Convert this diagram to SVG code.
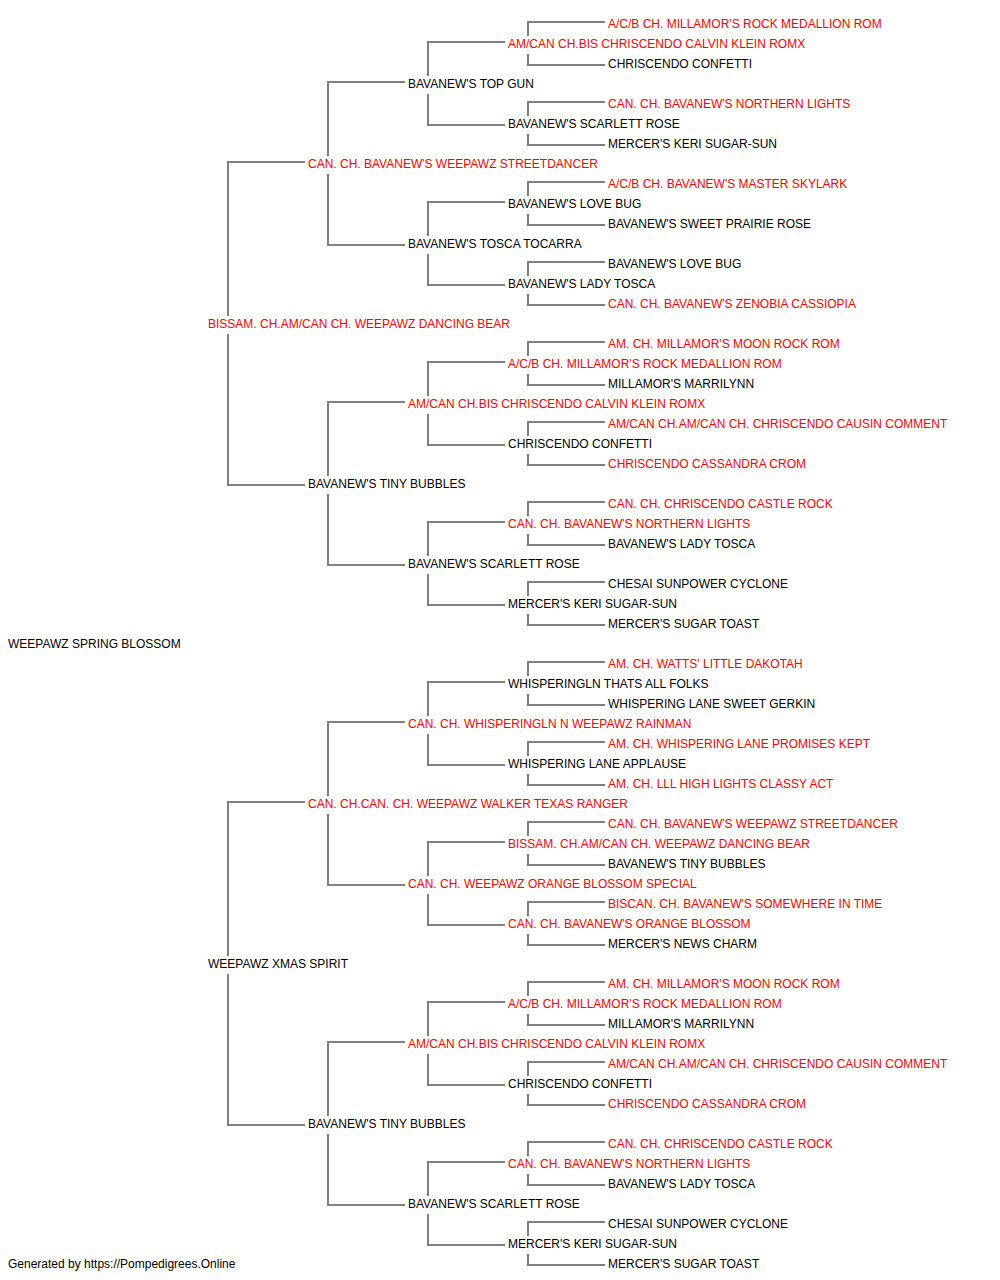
<svg xmlns="http://www.w3.org/2000/svg" width="1000" height="1280" viewBox="0 0 1000 1280">
<style>
text{font-family:"Liberation Sans",Arial,sans-serif;font-size:12px}
.r{fill:#ff0000}
.b{fill:#000000}
.c path{fill:none;stroke:#808080;stroke-width:2;stroke-linejoin:miter;stroke-linecap:butt}
</style>
<rect width="1000" height="1280" fill="#ffffff"/>
<g id="connectors" class="c">
<path d="M305 162H228V316M228 334V485H305"/>
<path d="M305 802H228V956M228 974V1125H305"/>
<path d="M405 82H328V156M328 174V245H405"/>
<path d="M405 402H328V476M328 494V565H405"/>
<path d="M405 722H328V796M328 814V885H405"/>
<path d="M405 1042H328V1116M328 1134V1205H405"/>
<path d="M505 42H428V76M428 94V125H505"/>
<path d="M505 202H428V236M428 254V285H505"/>
<path d="M505 362H428V396M428 414V445H505"/>
<path d="M505 522H428V556M428 574V605H505"/>
<path d="M505 682H428V716M428 734V765H505"/>
<path d="M505 842H428V876M428 894V925H505"/>
<path d="M505 1002H428V1036M428 1054V1085H505"/>
<path d="M505 1162H428V1196M428 1214V1245H505"/>
<path d="M605 22H528V36M528 54V65H605"/>
<path d="M605 102H528V116M528 134V145H605"/>
<path d="M605 182H528V196M528 214V225H605"/>
<path d="M605 262H528V276M528 294V305H605"/>
<path d="M605 342H528V356M528 374V385H605"/>
<path d="M605 422H528V436M528 454V465H605"/>
<path d="M605 502H528V516M528 534V545H605"/>
<path d="M605 582H528V596M528 614V625H605"/>
<path d="M605 662H528V676M528 694V705H605"/>
<path d="M605 742H528V756M528 774V785H605"/>
<path d="M605 822H528V836M528 854V865H605"/>
<path d="M605 902H528V916M528 934V945H605"/>
<path d="M605 982H528V996M528 1014V1025H605"/>
<path d="M605 1062H528V1076M528 1094V1105H605"/>
<path d="M605 1142H528V1156M528 1174V1185H605"/>
<path d="M605 1222H528V1236M528 1254V1265H605"/>
</g>
<g id="n0"><text class="b" x="8" y="648.3">WEEPAWZ SPRING BLOSSOM</text></g>
<g id="n1a"><text class="r" x="208" y="328.3">BISSAM. CH.AM/CAN CH. WEEPAWZ DANCING BEAR</text></g>
<g id="n1b"><text class="b" x="208" y="968.3">WEEPAWZ XMAS SPIRIT</text></g>
<g id="n2a"><text class="r" x="308" y="168.3">CAN. CH. BAVANEW'S WEEPAWZ STREETDANCER</text></g>
<g id="n2b"><text class="b" x="308" y="488.3">BAVANEW'S TINY BUBBLES</text></g>
<g id="n2c"><text class="r" x="308" y="808.3">CAN. CH.CAN. CH. WEEPAWZ WALKER TEXAS RANGER</text></g>
<g id="n2d"><text class="b" x="308" y="1128.3">BAVANEW'S TINY BUBBLES</text></g>
<g id="n3a"><text class="b" x="408" y="88.3">BAVANEW'S TOP GUN</text></g>
<g id="n3b"><text class="b" x="408" y="248.3">BAVANEW'S TOSCA TOCARRA</text></g>
<g id="n3c"><text class="r" x="408" y="408.3">AM/CAN CH.BIS CHRISCENDO CALVIN KLEIN ROMX</text></g>
<g id="n3d"><text class="b" x="408" y="568.3">BAVANEW'S SCARLETT ROSE</text></g>
<g id="n3e"><text class="r" x="408" y="728.3">CAN. CH. WHISPERINGLN N WEEPAWZ RAINMAN</text></g>
<g id="n3f"><text class="r" x="408" y="888.3">CAN. CH. WEEPAWZ ORANGE BLOSSOM SPECIAL</text></g>
<g id="n3g"><text class="r" x="408" y="1048.3">AM/CAN CH.BIS CHRISCENDO CALVIN KLEIN ROMX</text></g>
<g id="n3h"><text class="b" x="408" y="1208.3">BAVANEW'S SCARLETT ROSE</text></g>
<g id="n4a"><text class="r" x="508" y="48.3">AM/CAN CH.BIS CHRISCENDO CALVIN KLEIN ROMX</text></g>
<g id="n4b"><text class="b" x="508" y="128.3">BAVANEW'S SCARLETT ROSE</text></g>
<g id="n4c"><text class="b" x="508" y="208.3">BAVANEW'S LOVE BUG</text></g>
<g id="n4d"><text class="b" x="508" y="288.3">BAVANEW'S LADY TOSCA</text></g>
<g id="n4e"><text class="r" x="508" y="368.3">A/C/B CH. MILLAMOR'S ROCK MEDALLION ROM</text></g>
<g id="n4f"><text class="b" x="508" y="448.3">CHRISCENDO CONFETTI</text></g>
<g id="n4g"><text class="r" x="508" y="528.3">CAN. CH. BAVANEW'S NORTHERN LIGHTS</text></g>
<g id="n4h"><text class="b" x="508" y="608.3">MERCER'S KERI SUGAR-SUN</text></g>
<g id="n4i"><text class="b" x="508" y="688.3">WHISPERINGLN THATS ALL FOLKS</text></g>
<g id="n4j"><text class="b" x="508" y="768.3">WHISPERING LANE APPLAUSE</text></g>
<g id="n4k"><text class="r" x="508" y="848.3">BISSAM. CH.AM/CAN CH. WEEPAWZ DANCING BEAR</text></g>
<g id="n4l"><text class="r" x="508" y="928.3">CAN. CH. BAVANEW'S ORANGE BLOSSOM</text></g>
<g id="n4m"><text class="r" x="508" y="1008.3">A/C/B CH. MILLAMOR'S ROCK MEDALLION ROM</text></g>
<g id="n4n"><text class="b" x="508" y="1088.3">CHRISCENDO CONFETTI</text></g>
<g id="n4o"><text class="r" x="508" y="1168.3">CAN. CH. BAVANEW'S NORTHERN LIGHTS</text></g>
<g id="n4p"><text class="b" x="508" y="1248.3">MERCER'S KERI SUGAR-SUN</text></g>
<g id="n5-00"><text class="r" x="608" y="28.3">A/C/B CH. MILLAMOR'S ROCK MEDALLION ROM</text></g>
<g id="n5-01"><text class="b" x="608" y="68.3">CHRISCENDO CONFETTI</text></g>
<g id="n5-02"><text class="r" x="608" y="108.3">CAN. CH. BAVANEW'S NORTHERN LIGHTS</text></g>
<g id="n5-03"><text class="b" x="608" y="148.3">MERCER'S KERI SUGAR-SUN</text></g>
<g id="n5-04"><text class="r" x="608" y="188.3">A/C/B CH. BAVANEW'S MASTER SKYLARK</text></g>
<g id="n5-05"><text class="b" x="608" y="228.3">BAVANEW'S SWEET PRAIRIE ROSE</text></g>
<g id="n5-06"><text class="b" x="608" y="268.3">BAVANEW'S LOVE BUG</text></g>
<g id="n5-07"><text class="r" x="608" y="308.3">CAN. CH. BAVANEW'S ZENOBIA CASSIOPIA</text></g>
<g id="n5-08"><text class="r" x="608" y="348.3">AM. CH. MILLAMOR'S MOON ROCK ROM</text></g>
<g id="n5-09"><text class="b" x="608" y="388.3">MILLAMOR'S MARRILYNN</text></g>
<g id="n5-10"><text class="r" x="608" y="428.3">AM/CAN CH.AM/CAN CH. CHRISCENDO CAUSIN COMMENT</text></g>
<g id="n5-11"><text class="r" x="608" y="468.3">CHRISCENDO CASSANDRA CROM</text></g>
<g id="n5-12"><text class="r" x="608" y="508.3">CAN. CH. CHRISCENDO CASTLE ROCK</text></g>
<g id="n5-13"><text class="b" x="608" y="548.3">BAVANEW'S LADY TOSCA</text></g>
<g id="n5-14"><text class="b" x="608" y="588.3">CHESAI SUNPOWER CYCLONE</text></g>
<g id="n5-15"><text class="b" x="608" y="628.3">MERCER'S SUGAR TOAST</text></g>
<g id="n5-16"><text class="r" x="608" y="668.3">AM. CH. WATTS' LITTLE DAKOTAH</text></g>
<g id="n5-17"><text class="b" x="608" y="708.3">WHISPERING LANE SWEET GERKIN</text></g>
<g id="n5-18"><text class="r" x="608" y="748.3">AM. CH. WHISPERING LANE PROMISES KEPT</text></g>
<g id="n5-19"><text class="r" x="608" y="788.3">AM. CH. LLL HIGH LIGHTS CLASSY ACT</text></g>
<g id="n5-20"><text class="r" x="608" y="828.3">CAN. CH. BAVANEW'S WEEPAWZ STREETDANCER</text></g>
<g id="n5-21"><text class="b" x="608" y="868.3">BAVANEW'S TINY BUBBLES</text></g>
<g id="n5-22"><text class="r" x="608" y="908.3">BISCAN. CH. BAVANEW'S SOMEWHERE IN TIME</text></g>
<g id="n5-23"><text class="b" x="608" y="948.3">MERCER'S NEWS CHARM</text></g>
<g id="n5-24"><text class="r" x="608" y="988.3">AM. CH. MILLAMOR'S MOON ROCK ROM</text></g>
<g id="n5-25"><text class="b" x="608" y="1028.3">MILLAMOR'S MARRILYNN</text></g>
<g id="n5-26"><text class="r" x="608" y="1068.3">AM/CAN CH.AM/CAN CH. CHRISCENDO CAUSIN COMMENT</text></g>
<g id="n5-27"><text class="r" x="608" y="1108.3">CHRISCENDO CASSANDRA CROM</text></g>
<g id="n5-28"><text class="r" x="608" y="1148.3">CAN. CH. CHRISCENDO CASTLE ROCK</text></g>
<g id="n5-29"><text class="b" x="608" y="1188.3">BAVANEW'S LADY TOSCA</text></g>
<g id="n5-30"><text class="b" x="608" y="1228.3">CHESAI SUNPOWER CYCLONE</text></g>
<g id="n5-31"><text class="b" x="608" y="1268.3">MERCER'S SUGAR TOAST</text></g>
<g id="footer"><text class="b" x="8" y="1268.3">Generated by https://Pompedigrees.Online</text></g>
</svg>
